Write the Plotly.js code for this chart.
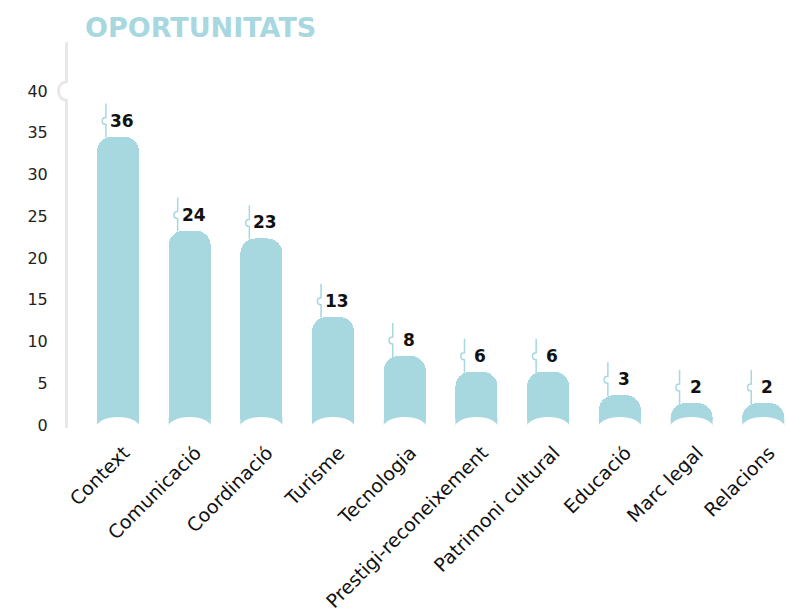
<!DOCTYPE html>
<html>
<head>
<meta charset="utf-8">
<script src="https://cdn.plot.ly/plotly-3.0.1.min.js"></script>
<style>html,body{margin:0;padding:0;background:#fff;}#chart{width:786px;height:614px;}</style>
</head>
<body>
<div id="chart"></div>
<script>
// ---- data ----
const categories = ["Context", "Comunicació", "Coordinació", "Turisme", "Tecnologia",
  "Prestigi-reconeixement", "Patrimoni cultural", "Educació", "Marc legal", "Relacions"];
const values = [36, 24, 23, 13, 8, 6, 6, 3, 2, 2];
const yTickVals = [0, 5, 10, 15, 20, 25, 30, 35, 40];
const titleText = "OPORTUNITATS";

// ---- style ----
const BAR = "#a7d7df";
const AXIS = "#e8e8e8";
const FONT = "DejaVu Sans";

const idx = categories.map((c, i) => i);

const bars = {
  type: "bar",
  x: idx,
  y: values,
  yaxis: "y2",
  width: 0.586,
  marker: { color: BAR, line: { width: 0 }, cornerradius: 15 },
  hoverinfo: "skip"
};

const shapes = [];
values.forEach((v, i) => {
  // bar foot extending down to the baseline
  shapes.push({
    type: "rect", layer: "above",
    xref: "x", xsizemode: "pixel", xanchor: i, x0: -21, x1: 21,
    yref: "y2", ysizemode: "pixel", yanchor: 0, y0: -12, y1: 1,
    fillcolor: BAR, line: { width: 0 }
  });
  // white notch at the bottom of each bar
  shapes.push({
    type: "circle", layer: "above",
    xref: "x", xsizemode: "pixel", xanchor: i, x0: -22, x1: 22,
    yref: "y", ysizemode: "pixel", yanchor: 0, y0: -14, y1: 8,
    fillcolor: "#ffffff", line: { width: 0 }
  });
  // connector line with a small bump above each bar
  shapes.push({
    type: "path", layer: "above",
    xref: "x", xsizemode: "pixel", xanchor: i,
    yref: "y2", ysizemode: "pixel", yanchor: v,
    path: "M -12,-1 L -12,12 C -17,12 -17,19 -12,19 L -12,33",
    line: { color: BAR, width: 1.5 }
  });
});
// notch on the y axis at the top tick
const topTick = yTickVals[yTickVals.length - 1];
shapes.push({
  type: "rect", layer: "above",
  xref: "paper", xsizemode: "pixel", xanchor: 0, x0: -5, x1: 1,
  yref: "y", ysizemode: "pixel", yanchor: topTick, y0: -8, y1: 8,
  fillcolor: "#ffffff", line: { width: 0 }
});
shapes.push({
  type: "path", layer: "above",
  xref: "paper", xsizemode: "pixel", xanchor: 0,
  yref: "y", ysizemode: "pixel", yanchor: topTick,
  path: "M -1.5,9 C -12.2,9 -12.2,-9 -1.5,-9",
  line: { color: AXIS, width: 3 }
});

const annotations = values.map((v, i) => ({
  x: i, y: v, xref: "x", yref: "y2",
  text: String(v), showarrow: false,
  xanchor: "center", yanchor: "middle",
  xshift: 4, yshift: 16,
  font: { family: FONT, size: 17, color: "#111111", weight: "bold" }
}));

const layout = {
  width: 786, height: 614,
  margin: { l: 68, r: 0, t: 42, b: 186, pad: 0 },
  paper_bgcolor: "#ffffff", plot_bgcolor: "#ffffff",
  showlegend: false,
  bargap: 0,
  title: {
    text: titleText,
    font: { family: FONT, size: 27, color: BAR, weight: "bold" },
    x: 85 / 786, xanchor: "left", xref: "container",
    y: 1 - 28 / 614, yanchor: "middle", yref: "container"
  },
  xaxis: {
    type: "linear",
    range: [-0.697, 9.317],
    tickvals: idx, ticktext: categories,
    tickangle: -45,
    tickfont: { family: FONT, size: 19, color: "#111111" },
    ticklabelstandoff: 9, ticklabelshift: 6,
    showgrid: false, zeroline: false, showline: false, ticks: "",
    fixedrange: true
  },
  yaxis: {
    range: [-0.359, 45.87],
    tickvals: yTickVals,
    tickfont: { family: FONT, size: 16, color: "#222222" },
    showgrid: false, zeroline: false,
    showline: true, linecolor: AXIS, linewidth: 3,
    ticks: "", ticklabelstandoff: 14,
    fixedrange: true
  },
  yaxis2: {
    overlaying: "y", range: [-1.187, 48.07], visible: false, fixedrange: true
  },
  shapes: shapes,
  annotations: annotations
};

Plotly.newPlot("chart", [bars], layout, { displayModeBar: false, staticPlot: true });
</script>
</body>
</html>
